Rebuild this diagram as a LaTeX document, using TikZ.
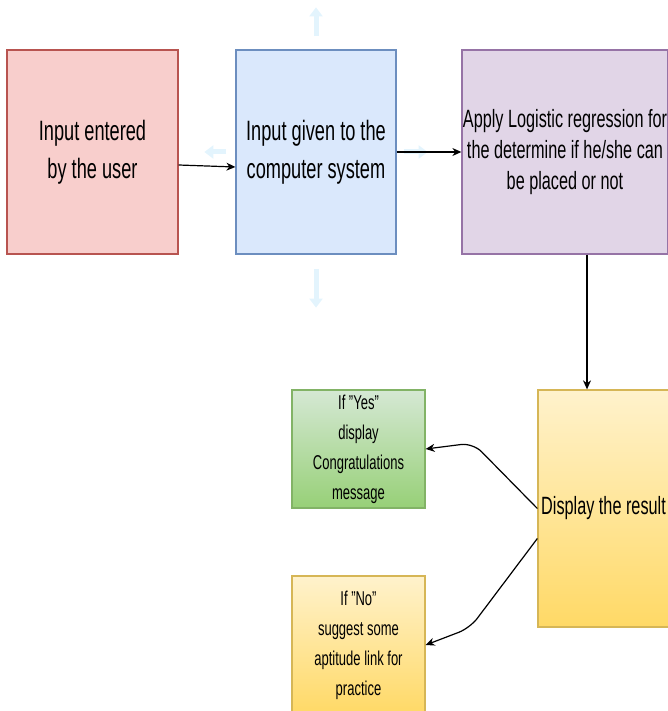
\documentclass[tikz,border=0pt]{standalone}
\usepackage{fontspec}
\setmainfont{Liberation Sans}[FakeStretch=0.65]
\usetikzlibrary{arrows.meta}

\definecolor{redfill}{HTML}{F8CECC}
\definecolor{redline}{HTML}{B85450}
\definecolor{bluefill}{HTML}{DAE8FC}
\definecolor{blueline}{HTML}{6C8EBF}
\definecolor{purplefill}{HTML}{E1D5E7}
\definecolor{purpleline}{HTML}{9673A6}
\definecolor{yellowtop}{HTML}{FFF2CC}
\definecolor{yellowbot}{HTML}{FFD966}
\definecolor{yellowline}{HTML}{D6B656}
\definecolor{greentop}{HTML}{D5E8D4}
\definecolor{greenbot}{HTML}{97D077}
\definecolor{greenline}{HTML}{82B366}
\definecolor{hintblue}{HTML}{E3F4FD}

\begin{document}
\begin{tikzpicture}[x=1pt,y=-1pt,>={Stealth[length=9pt,width=8pt]},
    box/.style={draw,rectangle,inner sep=0pt,align=center,line width=1.3pt},
    link/.style={->,line width=1.2pt,rounded corners=12pt},
    hint/.style={draw=hintblue,line width=5pt,-{Triangle[length=9pt,width=13pt]}}]
    \useasboundingbox (0,0) rectangle (668,711);
    \clip (0,0) rectangle (668,711);
    % top row
    \node [box,fill=redfill,draw=redline,minimum width=171pt,minimum height=204pt,
        font=\fontsize{28}{38}\selectfont] (user) at (92.5,152) {Input entered\\by the user};
    \node [box,fill=bluefill,draw=blueline,minimum width=160pt,minimum height=204pt,
        font=\fontsize{28}{38}\selectfont] (cpu) at (316,152) {Input given to the\\computer system};
    \node [box,fill=purplefill,draw=purpleline,minimum width=206pt,minimum height=204pt,
        font=\fontsize{25}{31}\selectfont] (model) at (565,152)
        {Apply Logistic regression for\\the determine if he/she can\\be placed or not};
    % result and the two outcomes
    \node [box,top color=yellowtop,bottom color=yellowbot,draw=yellowline,
        minimum width=131pt,minimum height=237pt,font=\fontsize{25}{31}\selectfont]
        (result) at (603.5,508.5) {Display the result};
    \node [box,top color=greentop,bottom color=greenbot,draw=greenline,
        minimum width=133pt,minimum height=118pt,font=\fontsize{20}{30}\selectfont]
        (yes) at (358.5,449) {If "Yes"\\display\\Congratulations\\message};
    \node [box,top color=yellowtop,bottom color=yellowbot,draw=yellowline,
        minimum width=133pt,minimum height=138pt,font=\fontsize{20}{30}\selectfont]
        (no) at (358.5,645) {If "No"\\suggest some\\aptitude link for\\practice};
    % faint hover arrows round the middle box
    \draw [hint] ([yshift=13pt]cpu.north) -- ([yshift=42pt]cpu.north);
    \draw [hint] ([yshift=-14pt]cpu.south) -- ([yshift=-53pt]cpu.south);
    \draw [hint] ([xshift=-9pt]cpu.west) -- ([xshift=-31pt]cpu.west);
    \draw [hint] ([xshift=7pt]cpu.east) -- ([xshift=31pt]cpu.east);
    % connectors
    \coordinate (bendyes) at (473,443);
    \coordinate (bendno) at (470,628);
    \draw [link] ([yshift=-13pt]user.east) -- ([yshift=-15pt]cpu.west);
    \draw [link] (cpu.east) -- (model.west);
    \draw [link] ([xshift=22pt]model.south) -- ([xshift=-16.5pt]result.north);
    \draw [link] (result.west) -- (bendyes) -- (yes.east);
    \draw [link] ([yshift=-30pt]result.west) -- (bendno) -- (no.east);
\end{tikzpicture}
\end{document}
